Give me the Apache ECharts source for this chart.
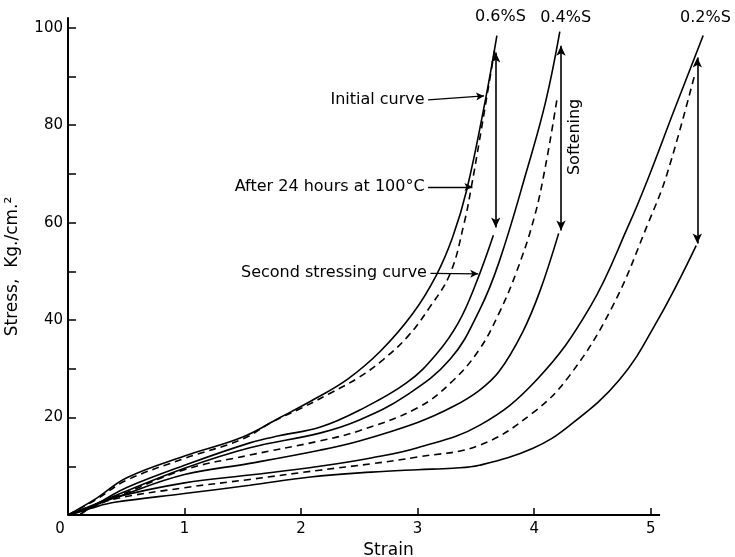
<!DOCTYPE html>
<html>
<head>
<meta charset="utf-8">
<script src="https://cdn.jsdelivr.net/npm/echarts@6/dist/echarts.min.js"></script>
<style>
  html, body { margin: 0; padding: 0; background: #fff; }
  #chart { width: 735px; height: 557px; }
</style>
</head>
<body>
<div id="chart"></div>
<script>
// Stress–strain curves, each pair is [strain, stress in Kg./cm.²]
// 0.6 % sulphur
const initial06 = [[0,0],[0.25,3.5],[0.5,7.6],[1,12.1],[1.5,16],[1.82,20],[2.1,23.6],[2.4,27.9],[2.68,33.6],[2.96,41.4],[3.16,49.2],[3.3,57],[3.42,66.6],[3.58,85],[3.68,98.4]];
const aged06 = [[0,0],[0.25,3.3],[0.5,7.1],[1,11.6],[1.5,15.6],[1.75,19.1],[2,21.9],[2.25,25],[2.5,28.3],[2.7,31.8],[2.91,36.5],[3.1,42.5],[3.28,49.6],[3.4,60],[3.46,67.2],[3.53,76.8],[3.66,95.3]];
const second06 = [[0.1,0],[0.2,1.7],[0.3,3],[0.5,5.6],[1,10.2],[1.56,14.8],[1.82,16.3],[2.16,18],[2.5,21.5],[2.91,27.2],[3.16,33],[3.35,39.5],[3.5,47.5],[3.65,57.4]];
// 0.4 % sulphur
const initial04 = [[0,0],[0.2,1.9],[0.47,4.6],[1,9.6],[1.56,13.8],[2.16,16.8],[2.5,19.5],[2.9,24.5],[3.28,32],[3.53,42],[3.7,52],[3.94,71],[4.1,85],[4.22,99.2]];
const aged04 = [[0,0],[0.2,1.8],[0.47,4.3],[1,9.3],[1.56,12.3],[2.16,15.2],[2.5,17.3],[3,22],[3.3,27.5],[3.53,34],[3.7,41.5],[3.85,50],[4,61],[4.1,72],[4.2,86]];
const second04 = [[0.1,0],[0.2,1.6],[0.47,4.1],[1,8.3],[1.56,10.6],[2.16,13.3],[2.5,15.2],[3,19],[3.3,22.2],[3.53,25.6],[3.7,29.5],[3.9,37.5],[4.05,46],[4.21,57.8]];
// 0.2 % sulphur
const initial02 = [[0,0],[0.2,1.8],[0.4,3.6],[1,6.6],[1.56,8.2],[2.16,10],[2.6,11.7],[3,13.8],[3.53,18.4],[4.02,27.7],[4.48,42.7],[4.82,60],[4.97,68.6],[5.2,83],[5.45,98.4]];
const aged02 = [[0,0],[0.2,1.6],[0.4,3.3],[1,5.6],[1.56,7.3],[2.16,9.2],[2.6,10.5],[3,11.9],[3.53,14.3],[3.99,21],[4.3,28.5],[4.67,42.7],[4.98,60],[5.14,70],[5.38,90.6]];
const second02 = [[0.02,0],[0.2,1.4],[0.4,2.6],[1,4.4],[1.56,6.1],[2.08,7.8],[2.6,8.8],[3,9.3],[3.3,9.6],[3.53,10.2],[3.99,13.7],[4.3,18.3],[4.73,27.7],[5.06,40],[5.39,55.3]];

// Softening drops: [strain, stress before, stress after]
const softening = [[3.67,94.9,59],[4.23,96.3,58.4],[5.40,93.9,55.7]];

// Axis ticks and labels
const xLabels = [0,1,2,3,4,5];
const xTicks = [1,2,3,4,5];
const xAxisEnd = 5.08;
const yTicks = [0,10,20,30,40,50,60,70,80,90,100];
const yLabels = [20,40,60,80,100];

// Text labels
const curveTexts = ['0.6%S','0.4%S','0.2%S'];
const noteTexts = ['Initial curve','After 24 hours at 100°C','Second stressing curve','Softening'];

const FONT = 'DejaVu Sans';
const INK = '#000';

const chart = echarts.init(document.getElementById('chart'), null, { renderer: 'canvas' });

function curve(name, data, dashed) {
  return {
    type: 'line', name: name, data: data,
    symbol: 'none', showSymbol: false,
    smooth: 0.4,
    clip: false, silent: true, z: 3,
    lineStyle: { color: INK, width: 1.6, type: dashed ? [7, 5] : 'solid' }
  };
}

const series = [
  curve('initial06', initial06, false),
  curve('aged06', aged06, true),
  curve('second06', second06, false),
  curve('initial04', initial04, false),
  curve('aged04', aged04, true),
  curve('second04', second04, false),
  curve('initial02', initial02, false),
  curve('aged02', aged02, true),
  curve('second02', second02, false)
];

// Strain axis line, drawn only as far as the last labelled tick
series.push({
  type: 'line', name: 'strainAxis', data: [], silent: true,
  markLine: {
    silent: true, animation: false, symbol: ['none', 'none'],
    label: { show: false },
    lineStyle: { color: INK, width: 2, type: 'solid' },
    data: [[{ coord: [0, 0] }, { coord: [xAxisEnd, 0] }]]
  }
});

// Double-headed softening arrows
series.push({
  type: 'line', name: 'softening', data: [], silent: true,
  markLine: {
    silent: true, animation: false,
    symbol: ['arrow', 'arrow'], symbolSize: [7, 10],
    label: { show: false },
    lineStyle: { color: INK, width: 1.6, type: 'solid' },
    data: softening.map(s => [{ coord: [s[0], s[1]] }, { coord: [s[0], s[2]] }])
  }
});

// Pointer arrows from the notes to their curves
series.push({
  type: 'line', name: 'pointers', data: [], silent: true,
  markLine: {
    silent: true, animation: false,
    symbol: ['none', 'arrow'], symbolSize: [6, 8],
    label: { show: false },
    lineStyle: { color: INK, width: 1.3, type: 'solid' },
    data: [
      [{ coord: [3.09, 85.2] }, { coord: [3.57, 86.0], lineStyle: { curveness: -0.12 } }],
      [{ coord: [3.09, 67.3] }, { coord: [3.47, 67.3] }],
      [{ coord: [3.11, 49.6] }, { coord: [3.52, 49.5] }]
    ]
  }
});

chart.setOption({
  animation: false,
  backgroundColor: '#fff',
  grid: { left: 68, right: 26, top: 18, bottom: 42, containLabel: false, outerBoundsMode: 'none' },
  xAxis: {
    type: 'value', min: 0, max: 5.5, interval: 0.5,
    name: 'Strain', nameLocation: 'middle', nameGap: 27,
    nameTextStyle: { fontFamily: FONT, fontSize: 17, color: INK },
    axisLine: { show: false },
    axisTick: { inside: true, length: 7, customValues: xTicks, lineStyle: { color: INK, width: 1.5 } },
    axisLabel: {
      customValues: xLabels, margin: 7, color: INK, fontFamily: FONT, fontSize: 15,
      formatter: v => v === 0 ? '{z|0}' : String(v),
      rich: { z: { fontFamily: FONT, fontSize: 15, color: INK, padding: [0, 16, 0, 0] } }
    },
    splitLine: { show: false }
  },
  yAxis: {
    type: 'value', min: 0, max: 102, interval: 10,
    name: 'Stress,  Kg./cm.²', nameLocation: 'middle', nameGap: 47, nameRotate: 90,
    nameTextStyle: { fontFamily: FONT, fontSize: 17, color: INK },
    axisLine: { lineStyle: { color: INK, width: 2 } },
    axisTick: { inside: true, length: 8, customValues: yTicks, lineStyle: { color: INK, width: 1.5 } },
    axisLabel: { customValues: yLabels, margin: 5, color: INK, fontFamily: FONT, fontSize: 15 },
    splitLine: { show: false }
  },
  series: series
});

// Text notes placed in data coordinates
const notes = [
  { text: curveTexts[0], at: [3.71, 102.3], align: 'center' },
  { text: curveTexts[1], at: [4.27, 102.1], align: 'center' },
  { text: curveTexts[2], at: [5.47, 102.1], align: 'center' },
  { text: noteTexts[0], at: [3.06, 85.2], align: 'right' },
  { text: noteTexts[1], at: [3.06, 67.3], align: 'right' },
  { text: noteTexts[2], at: [3.08, 49.7], align: 'right' }
];
const graphics = notes.map(n => {
  const p = chart.convertToPixel({ gridIndex: 0 }, n.at);
  return {
    type: 'text', x: p[0], y: p[1], silent: true, z: 10,
    style: { text: n.text, fill: INK, font: '16px "' + FONT + '"', align: n.align, verticalAlign: 'middle' }
  };
});
const sp = chart.convertToPixel({ gridIndex: 0 }, [4.35, 77.6]);
graphics.push({
  type: 'text', x: sp[0], y: sp[1], rotation: Math.PI / 2, silent: true, z: 10,
  style: { text: noteTexts[3], fill: INK, font: '16px "' + FONT + '"', align: 'center', verticalAlign: 'middle' }
});
chart.setOption({ graphic: graphics });
</script>
</body>
</html>
